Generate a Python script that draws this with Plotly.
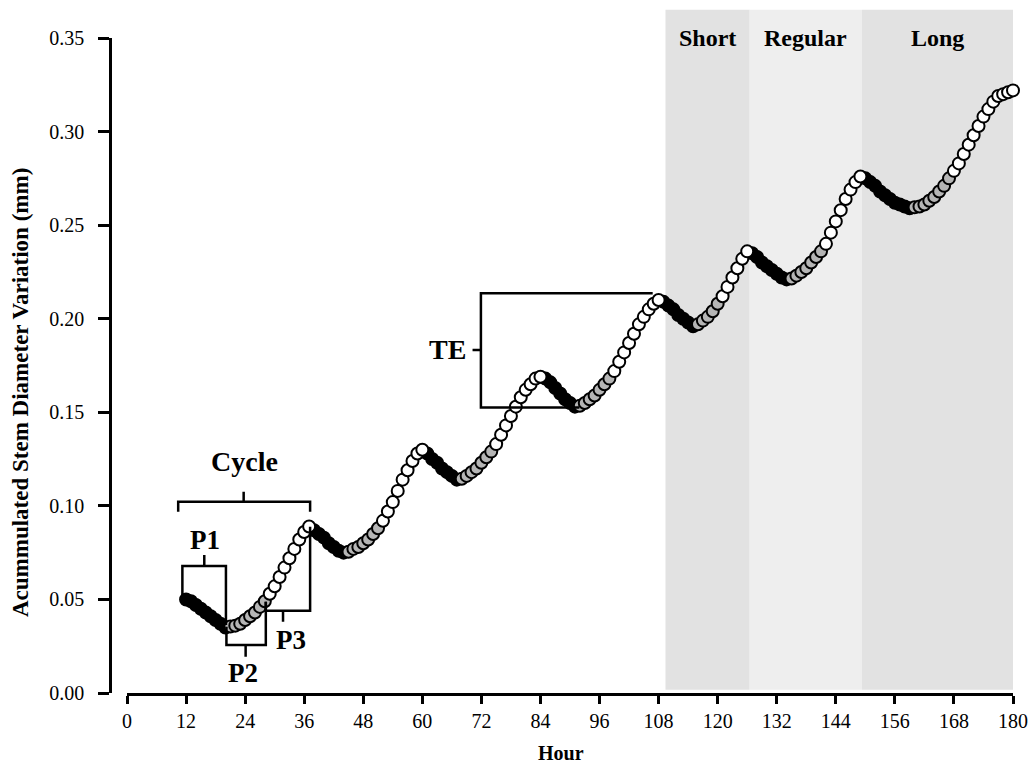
import plotly.graph_objects as go

# ---------------- data ----------------
hours = list(range(12, 181))
stem_variation = [
    # h12-37
    0.050, 0.049, 0.047, 0.045, 0.043, 0.041, 0.039, 0.037, 0.035,
    0.0355, 0.036, 0.037, 0.039, 0.041, 0.043, 0.046, 0.049,
    0.053, 0.057, 0.062, 0.067, 0.072, 0.077, 0.082, 0.086, 0.089,
    # h38-60
    0.087, 0.085, 0.083, 0.080, 0.078, 0.076, 0.075,
    0.0755, 0.077, 0.078, 0.080, 0.082, 0.085, 0.088,
    0.092, 0.097, 0.102, 0.108, 0.114, 0.119, 0.124, 0.128, 0.130,
    # h61-84
    0.128, 0.125, 0.123, 0.120, 0.118, 0.116, 0.114,
    0.1145, 0.116, 0.118, 0.120, 0.123, 0.126, 0.129,
    0.133, 0.138, 0.143, 0.148, 0.153, 0.158, 0.162, 0.165, 0.168, 0.169,
    # h85-108
    0.168, 0.166, 0.163, 0.160, 0.157, 0.155, 0.153,
    0.1535, 0.155, 0.157, 0.159, 0.162, 0.165, 0.168,
    0.172, 0.177, 0.182, 0.187, 0.192, 0.197, 0.201, 0.205, 0.208, 0.210,
    # h109-126
    0.209, 0.207, 0.205, 0.202, 0.200, 0.198, 0.196,
    0.197, 0.199, 0.201, 0.204, 0.208,
    0.212, 0.217, 0.222, 0.227, 0.232, 0.236,
    # h127-149
    0.235, 0.233, 0.230, 0.228, 0.226, 0.224, 0.222, 0.221,
    0.2215, 0.223, 0.225, 0.227, 0.230, 0.233, 0.236,
    0.240, 0.246, 0.252, 0.258, 0.264, 0.269, 0.273, 0.276,
    # h150-180
    0.275, 0.273, 0.271, 0.268, 0.266, 0.264, 0.262, 0.261, 0.260, 0.259,
    0.2595, 0.260, 0.261, 0.263, 0.265, 0.268, 0.271, 0.275,
    0.279, 0.283, 0.288, 0.293, 0.298, 0.303, 0.308, 0.312, 0.316, 0.319,
    0.320, 0.321, 0.322,
]

region_names = ["Short", "Regular", "Long"]
region_bounds = [109.4, 126.5, 149.3, 180]
region_colors = ["#e2e2e2", "#eeeeee", "#e2e2e2"]

x_ticks = list(range(0, 181, 12))
y_ticks = [0.00, 0.05, 0.10, 0.15, 0.20, 0.25, 0.30, 0.35]

phase_colors = {"P1": "black", "P2": "#b5b5b5", "P3": "white"}


# classify points: P1 shrinkage, P2 recovery (below last max), P3 increment
def classify(vals):
    phases = []
    state = "P1"
    last_peak = vals[0]
    for i, v in enumerate(vals):
        if i > 0:
            prev = vals[i - 1]
            if state == "P3" and v < prev:
                state = "P1"
                last_peak = prev
            elif state == "P1" and v > prev:
                state = "P2"
            if state == "P2" and v > last_peak:
                state = "P3"
        phases.append(state)
    return phases


phases = classify(stem_variation)

FONT = "Liberation Serif"
fig = go.Figure()

for ph in ["P1", "P2", "P3"]:
    xs = [h for h, p in zip(hours, phases) if p == ph]
    ys = [v for v, p in zip(stem_variation, phases) if p == ph]
    fig.add_trace(go.Scatter(
        x=xs, y=ys, mode="markers", cliponaxis=False, showlegend=False,
        marker=dict(size=12, color=phase_colors[ph],
                    line=dict(color="black", width=2)),
    ))

shapes = []
annotations = []
for name, x0, x1, col in zip(region_names, region_bounds[:-1], region_bounds[1:], region_colors):
    shapes.append(dict(type="rect", xref="x", yref="paper", x0=x0, x1=x1,
                       y0=0.005, y1=1.043, fillcolor=col, line=dict(width=0),
                       layer="below"))
    annotations.append(dict(x=(x0 + x1) / 2, y=1.0, xref="x", yref="paper",
                            text="<b>%s</b>" % name, showarrow=False,
                            yanchor="middle",
                            font=dict(family=FONT, size=24, color="black")))

# brackets (data-coordinate paths)
brackets = [
    "M10.4,0.0969 L10.4,0.1022 L37.2,0.1022 L37.2,0.0969 M23.7,0.1022 L23.7,0.1076",
    "M11.25,0.0508 L11.25,0.0679 L20.1,0.0679 L20.1,0.0363 M15.7,0.0679 L15.7,0.0738",
    "M20.2,0.0354 L20.2,0.0257 L28.2,0.0257 L28.2,0.0488 M24.1,0.0257 L24.1,0.0194",
    "M28.2,0.0488 L28.2,0.0440 L37.2,0.0440 L37.2,0.0889 M31.7,0.0440 L31.7,0.0381",
    "M106.8,0.2136 L71.9,0.2136 L71.9,0.1525 L91.9,0.1525 M71.9,0.1833 L70.2,0.1833",
]
for p in brackets:
    shapes.append(dict(type="path", xref="x", yref="y", path=p,
                       line=dict(color="black", width=2.5)))

labels = [("Cycle", 23.8, 0.1235, 28), ("P1", 15.9, 0.0818, 27),
          ("P2", 23.6, 0.0107, 27), ("P3", 33.4, 0.0283, 27),
          ("TE", 65.1, 0.1833, 28)]
for t, x, y, s in labels:
    annotations.append(dict(x=x, y=y, xref="x", yref="y", text="<b>%s</b>" % t,
                            showarrow=False, xanchor="center", yanchor="middle",
                            font=dict(family=FONT, size=s, color="black")))

annotations.append(dict(x=0.501, y=-0.0916, xref="paper", yref="paper",
                        text="<b>Hour</b>", showarrow=False, yanchor="middle",
                        font=dict(family=FONT, size=20, color="black")))
annotations.append(dict(x=-0.087, y=0.4595, xref="paper", yref="paper",
                        text="<b>Acummulated Stem Diameter Variation (mm)</b>",
                        textangle=-90, showarrow=False, xanchor="center",
                        yanchor="middle",
                        font=dict(family=FONT, size=23, color="black")))

fig.update_layout(
    width=1030, height=766,
    margin=dict(l=100, r=10, t=38, b=73),
    plot_bgcolor="white", paper_bgcolor="white",
    shapes=shapes, annotations=annotations,
    xaxis=dict(domain=[27 / 920, 913 / 920], range=[0, 180],
               tickvals=x_ticks, ticks="outside", ticklen=8, tickwidth=2.5,
               tickcolor="black", showline=True, linecolor="black",
               linewidth=2.5, showgrid=False, zeroline=False,
               tickfont=dict(family=FONT, size=20, color="black"),
               anchor="y", automargin=False),
    yaxis=dict(range=[0, 0.35], tickvals=y_ticks, tickformat=".2f",
               ticks="outside", ticklen=11, tickwidth=2.5, tickcolor="black",
               showline=True, linecolor="black", linewidth=2.5,
               showgrid=False, zeroline=False, anchor="free",
               position=10 / 920, ticklabelstandoff=10, automargin=False,
               tickfont=dict(family=FONT, size=20, color="black")),
)

fig.write_html("out.html")
